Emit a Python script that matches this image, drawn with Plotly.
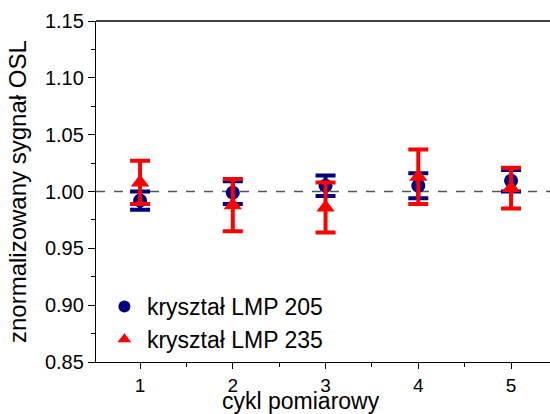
import plotly.graph_objects as go

cycles = [1, 2, 3, 4, 5]
lmp205 = [0.992, 0.999, 1.005, 1.005, 1.0095]
lmp205_err = [0.008, 0.010, 0.009, 0.011, 0.0095]
lmp235 = [1.008, 0.988, 0.986, 1.013, 1.003]
lmp235_err = [0.019, 0.023, 0.022, 0.024, 0.018]
y_ticks = [0.85, 0.90, 0.95, 1.00, 1.05, 1.10, 1.15]
y_labels = ["0.85", "0.90", "0.95", "1.00", "1.05", "1.10", "1.15"]

FONT = "Liberation Sans, Arial, sans-serif"

fig = go.Figure()
fig.add_trace(go.Scatter(
    x=cycles, y=lmp205, mode="markers", name="kryształ LMP 205",
    marker=dict(symbol="circle", size=14, color="#000080"),
    error_y=dict(type="data", array=lmp205_err, visible=True,
                 color="#000080", thickness=4, width=10),
))
fig.add_trace(go.Scatter(
    x=cycles, y=lmp235, mode="markers", name="kryształ LMP 235",
    marker=dict(symbol="triangle-up", size=16, color="#ff0000"),
    error_y=dict(type="data", array=lmp235_err, visible=True,
                 color="#ff0000", thickness=4, width=10),
))

# reference dashed line at 1.00
fig.add_shape(type="line", xref="paper", x0=0, x1=1, yref="y", y0=1.0, y1=1.0,
              line=dict(color="#555555", width=1.3, dash="dash"), layer="below")
# top frame line
fig.add_shape(type="line", xref="paper", x0=0, x1=1, yref="paper", y0=1, y1=1,
              line=dict(color="black", width=1.3))

# axis titles
fig.add_annotation(text="cykl pomiarowy", xref="paper", yref="paper",
                   x=0.452, y=-0.114, xanchor="center", yanchor="middle",
                   showarrow=False, font=dict(size=23, family=FONT, color="black"))
fig.add_annotation(text="znormalizowany sygnał OSL", xref="paper", yref="paper",
                   x=-0.174, y=0.4985, xanchor="center", yanchor="middle", textangle=-90,
                   showarrow=False, font=dict(size=24, family=FONT, color="black"))

fig.update_layout(
    width=550, height=414,
    margin=dict(l=96, r=0, t=21, b=52, autoexpand=False),
    paper_bgcolor="white", plot_bgcolor="white",
    font=dict(family=FONT, size=20, color="black"),
    showlegend=True,
    legend=dict(x=0.013, y=0.226, xanchor="left", yanchor="top",
                bgcolor="rgba(0,0,0,0)", font=dict(size=23, family=FONT),
                itemsizing="constant", itemwidth=35),
    xaxis=dict(
        range=[0.525, 5.42], tickvals=cycles, ticktext=[str(c) for c in cycles],
        showgrid=False, zeroline=False, showline=True, linecolor="black", linewidth=1.3,
        ticks="outside", ticklen=6, tickwidth=1.3, tickcolor="black",
        tickfont=dict(size=19, family=FONT), automargin=False,
        minor=dict(tickvals=[1.5, 2.5, 3.5, 4.5], ticks="outside", ticklen=4,
                   tickwidth=1.2, tickcolor="black"),
    ),
    yaxis=dict(
        range=[0.85, 1.15], tickvals=y_ticks, ticktext=y_labels,
        showgrid=False, zeroline=False, showline=True, linecolor="black", linewidth=1.3,
        ticks="outside", ticklen=7, tickwidth=1.3, tickcolor="black",
        tickfont=dict(size=20, family=FONT), automargin=False,
        minor=dict(tickvals=[0.875, 0.925, 0.975, 1.025, 1.075, 1.125],
                   ticks="outside", ticklen=4, tickwidth=1.2, tickcolor="black"),
    ),
)

fig.write_html("out.html", config={"displayModeBar": False},
               post_script="document.body.style.margin='0';document.body.style.overflow='hidden';")
